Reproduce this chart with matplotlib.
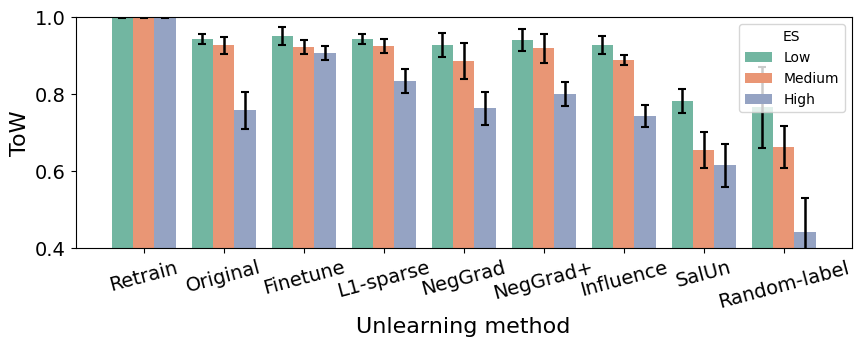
import matplotlib
matplotlib.use("Agg")
import matplotlib.pyplot as plt
import numpy as np

# =============================================================================
# DATA
# =============================================================================
METHODS = ["Retrain", "Original", "Finetune", "L1-sparse", "NegGrad",
           "NegGrad+", "Influence", "SalUn", "Random-label"]
LEVELS = ["Low", "Medium", "High"]

TOW_LOW    = [1.000, 0.944, 0.951, 0.944, 0.928, 0.941, 0.928, 0.783, 0.766]
TOW_MEDIUM = [1.000, 0.928, 0.923, 0.925, 0.887, 0.920, 0.889, 0.655, 0.663]
TOW_HIGH   = [1.000, 0.759, 0.907, 0.835, 0.764, 0.801, 0.744, 0.616, 0.442]

ERR_LOW    = [0.002, 0.014, 0.024, 0.014, 0.031, 0.029, 0.024, 0.032, 0.106]
ERR_MEDIUM = [0.002, 0.022, 0.019, 0.018, 0.047, 0.038, 0.012, 0.047, 0.055]
ERR_HIGH   = [0.002, 0.048, 0.018, 0.032, 0.043, 0.030, 0.029, 0.056, 0.088]

COLORS = ["#72b6a1", "#e99675", "#95a3c3"]


def main():
    fig, ax = plt.subplots(figsize=(8.61, 3.47), dpi=100)
    fig.subplots_adjust(left=0.088, right=0.989, top=0.950, bottom=0.284)

    x = np.arange(len(METHODS))
    width = 0.8 / 3
    series = [(TOW_LOW, ERR_LOW), (TOW_MEDIUM, ERR_MEDIUM), (TOW_HIGH, ERR_HIGH)]
    for i, ((vals, errs), label, color) in enumerate(zip(series, LEVELS, COLORS)):
        pos = x + (i - 1) * width
        ax.bar(pos, vals, width=width, color=color, label=label)
        ax.errorbar(pos, vals, yerr=errs, fmt="none", ecolor="black",
                    elinewidth=1.8, capsize=3, capthick=1.5)

    ax.set_ylim(0.4, 1.0)
    ax.set_xlim(-0.85, 8.85)
    ax.set_yticks([0.4, 0.6, 0.8, 1.0])
    ax.set_xticks(x)
    ax.set_xticklabels(METHODS, rotation=15, fontsize=14)
    ax.tick_params(axis="y", labelsize=14)
    ax.set_ylabel("ToW", fontsize=16)
    ax.set_xlabel("Unlearning method", fontsize=16)

    ax.legend(title="ES", loc="upper right", fontsize=10, title_fontsize=10)

    fig.savefig("out.png", dpi=100)
    plt.close(fig)


if __name__ == "__main__":
    main()
